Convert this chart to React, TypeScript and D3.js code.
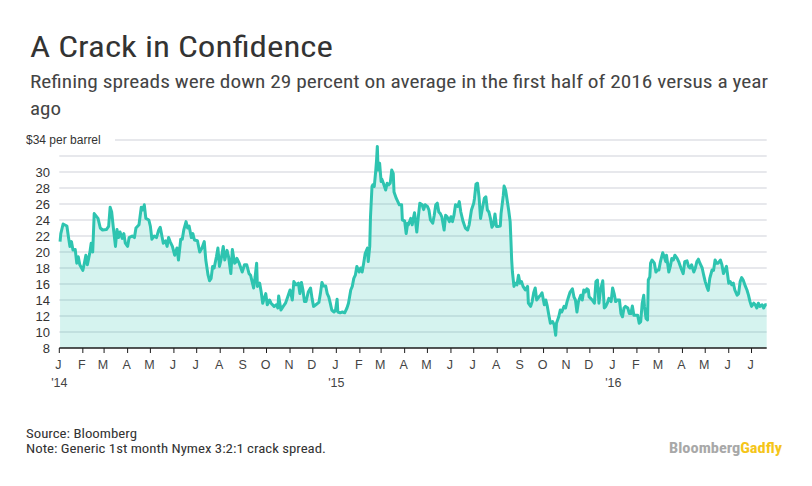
import React from "react";
import * as d3 from "d3";

const spread2014: [string, number][] = [
  ["2014-01-02", 21.3], ["2014-01-03", 22.3], ["2014-01-06", 23.5], ["2014-01-11", 23.25], ["2014-01-13", 21.9],
  ["2014-01-15", 20.7], ["2014-01-17", 21.3], ["2014-01-19", 20.25], ["2014-01-22", 20.3], ["2014-01-24", 18.6],
  ["2014-01-26", 19.4], ["2014-01-28", 18.4], ["2014-02-01", 17.7], ["2014-02-03", 18.6], ["2014-02-05", 19.6],
  ["2014-02-07", 18.4], ["2014-02-10", 19.8], ["2014-02-12", 21.1], ["2014-02-14", 20.0], ["2014-02-16", 24.8],
  ["2014-02-21", 24.2], ["2014-02-24", 23.0], ["2014-02-27", 22.75], ["2014-03-04", 22.8], ["2014-03-07", 23.2],
  ["2014-03-09", 25.6], ["2014-03-11", 25.0], ["2014-03-13", 23.2], ["2014-03-16", 20.7], ["2014-03-18", 22.8],
  ["2014-03-20", 21.8], ["2014-03-22", 22.5], ["2014-03-25", 21.7], ["2014-03-27", 22.3], ["2014-03-29", 21.1],
  ["2014-04-01", 20.7], ["2014-04-03", 21.8], ["2014-04-07", 22.0], ["2014-04-10", 21.8], ["2014-04-12", 23.0],
  ["2014-04-16", 23.4], ["2014-04-19", 25.6], ["2014-04-21", 25.25], ["2014-04-23", 25.9], ["2014-04-25", 24.2],
  ["2014-04-29", 24.0], ["2014-05-01", 23.2], ["2014-05-03", 21.6], ["2014-05-06", 22.0], ["2014-05-09", 21.8],
  ["2014-05-12", 22.75], ["2014-05-14", 23.1], ["2014-05-16", 22.1], ["2014-05-18", 21.1], ["2014-05-21", 21.4],
  ["2014-05-23", 20.7], ["2014-05-25", 21.8], ["2014-05-27", 21.3], ["2014-05-30", 20.7], ["2014-06-02", 19.6],
  ["2014-06-05", 20.5], ["2014-06-07", 19.0], ["2014-06-10", 21.6], ["2014-06-12", 21.6], ["2014-06-14", 22.75],
  ["2014-06-17", 23.8], ["2014-06-19", 23.0], ["2014-06-21", 23.25], ["2014-06-24", 21.8], ["2014-06-26", 22.3],
  ["2014-06-28", 21.5], ["2014-07-02", 21.4], ["2014-07-05", 20.0], ["2014-07-08", 20.5], ["2014-07-11", 21.3],
  ["2014-07-13", 19.0], ["2014-07-16", 17.1], ["2014-07-18", 16.4], ["2014-07-20", 16.7], ["2014-07-22", 18.2],
  ["2014-07-24", 18.0], ["2014-07-27", 19.4], ["2014-07-29", 20.5], ["2014-07-31", 18.2], ["2014-08-02", 19.0],
  ["2014-08-05", 20.7], ["2014-08-07", 19.0], ["2014-08-10", 20.2], ["2014-08-12", 19.4], ["2014-08-15", 17.3],
  ["2014-08-17", 20.3], ["2014-08-20", 18.6], ["2014-08-22", 18.8], ["2014-08-23", 19.2], ["2014-08-26", 18.6],
  ["2014-08-30", 17.5], ["2014-09-02", 18.4], ["2014-09-05", 18.4], ["2014-09-08", 17.3], ["2014-09-10", 17.1],
  ["2014-09-12", 16.3], ["2014-09-14", 15.5], ["2014-09-16", 16.9], ["2014-09-18", 18.6], ["2014-09-19", 15.7],
  ["2014-09-22", 16.1], ["2014-09-24", 15.0], ["2014-09-26", 13.6], ["2014-09-28", 14.2], ["2014-09-30", 14.8],
  ["2014-10-02", 13.4], ["2014-10-05", 14.0], ["2014-10-07", 13.6], ["2014-10-11", 13.2], ["2014-10-14", 13.4],
  ["2014-10-16", 13.0], ["2014-10-17", 14.5], ["2014-10-20", 12.75], ["2014-10-23", 13.2], ["2014-10-26", 13.6],
  ["2014-10-29", 14.4], ["2014-11-01", 15.25], ["2014-11-04", 14.0], ["2014-11-06", 16.3], ["2014-11-09", 15.9],
  ["2014-11-12", 16.1], ["2014-11-14", 14.8], ["2014-11-16", 16.2], ["2014-11-18", 15.25], ["2014-11-20", 13.8],
  ["2014-11-22", 13.8], ["2014-11-25", 15.0], ["2014-11-28", 15.5], ["2014-11-30", 14.2], ["2014-12-02", 13.2],
  ["2014-12-05", 13.4], ["2014-12-09", 13.7], ["2014-12-11", 14.8], ["2014-12-13", 16.2], ["2014-12-15", 15.75],
  ["2014-12-18", 15.75], ["2014-12-20", 14.8], ["2014-12-22", 14.4], ["2014-12-24", 13.6], ["2014-12-26", 12.75],
  ["2014-12-29", 12.5], ["2014-12-31", 12.75],
];

const spread2015: [string, number][] = [
  ["2015-01-02", 14.1], ["2015-01-03", 12.5], ["2015-01-06", 12.4], ["2015-01-09", 12.5], ["2015-01-12", 12.4],
  ["2015-01-15", 13.0], ["2015-01-17", 13.6], ["2015-01-20", 15.25], ["2015-01-22", 15.7], ["2015-01-24", 16.7],
  ["2015-01-26", 17.1], ["2015-01-28", 18.2], ["2015-01-31", 17.5], ["2015-02-02", 18.0], ["2015-02-04", 17.5],
  ["2015-02-06", 18.6], ["2015-02-08", 19.8], ["2015-02-11", 20.5], ["2015-02-12", 18.8], ["2015-02-14", 20.7],
  ["2015-02-15", 24.4], ["2015-02-17", 28.2], ["2015-02-18", 28.4], ["2015-02-20", 28.2], ["2015-02-22", 30.25],
  ["2015-02-23", 31.5], ["2015-02-24", 33.2], ["2015-02-25", 30.25], ["2015-02-27", 31.1], ["2015-03-01", 28.8],
  ["2015-03-02", 29.1], ["2015-03-04", 28.6], ["2015-03-07", 27.75], ["2015-03-09", 28.6], ["2015-03-11", 28.4],
  ["2015-03-13", 28.6], ["2015-03-15", 30.25], ["2015-03-17", 29.8], ["2015-03-18", 27.5], ["2015-03-21", 26.7],
  ["2015-03-23", 26.3], ["2015-03-25", 25.9], ["2015-03-28", 25.9], ["2015-03-29", 24.0], ["2015-04-01", 23.9],
  ["2015-04-03", 22.3], ["2015-04-05", 23.6], ["2015-04-06", 23.4], ["2015-04-09", 24.2], ["2015-04-11", 23.4],
  ["2015-04-12", 24.0], ["2015-04-14", 24.9], ["2015-04-17", 22.5], ["2015-04-19", 24.4], ["2015-04-21", 26.1],
  ["2015-04-24", 25.9], ["2015-04-26", 25.3], ["2015-04-28", 25.9], ["2015-05-01", 25.7], ["2015-05-03", 25.25],
  ["2015-05-05", 24.0], ["2015-05-08", 23.6], ["2015-05-10", 24.6], ["2015-05-12", 25.9], ["2015-05-14", 26.1],
  ["2015-05-16", 25.0], ["2015-05-18", 24.8], ["2015-05-20", 24.4], ["2015-05-23", 22.75], ["2015-05-25", 24.6],
  ["2015-05-27", 24.4], ["2015-05-30", 23.8], ["2015-06-01", 24.4], ["2015-06-03", 23.8], ["2015-06-05", 24.6],
  ["2015-06-07", 25.9], ["2015-06-10", 25.7], ["2015-06-12", 26.3], ["2015-06-14", 25.0], ["2015-06-17", 23.8],
  ["2015-06-20", 23.0], ["2015-06-23", 22.75], ["2015-06-25", 23.4], ["2015-06-28", 25.25], ["2015-07-01", 26.1],
  ["2015-07-02", 26.7], ["2015-07-04", 28.5], ["2015-07-06", 28.6], ["2015-07-08", 26.9], ["2015-07-10", 24.2],
  ["2015-07-12", 25.25], ["2015-07-15", 26.7], ["2015-07-17", 26.9], ["2015-07-19", 25.25], ["2015-07-21", 25.0],
  ["2015-07-23", 24.2], ["2015-07-25", 23.1], ["2015-07-27", 23.4], ["2015-07-29", 24.75], ["2015-07-31", 23.2],
  ["2015-08-02", 23.2], ["2015-08-05", 23.25], ["2015-08-06", 24.8], ["2015-08-09", 27.1], ["2015-08-10", 28.25],
  ["2015-08-12", 27.75], ["2015-08-14", 26.5], ["2015-08-16", 25.25], ["2015-08-18", 23.8], ["2015-08-19", 21.5],
  ["2015-08-20", 19.0], ["2015-08-21", 17.5], ["2015-08-23", 15.7], ["2015-08-25", 16.1], ["2015-08-27", 15.9],
  ["2015-08-29", 17.1], ["2015-08-31", 16.1], ["2015-09-02", 16.3], ["2015-09-04", 15.7], ["2015-09-07", 15.25],
  ["2015-09-10", 15.7], ["2015-09-11", 13.6], ["2015-09-14", 13.2], ["2015-09-16", 13.8], ["2015-09-18", 14.9],
  ["2015-09-20", 15.5], ["2015-09-22", 14.0], ["2015-09-25", 14.4], ["2015-09-27", 14.6], ["2015-09-29", 14.9],
  ["2015-10-02", 13.4], ["2015-10-04", 14.0], ["2015-10-06", 13.2], ["2015-10-08", 12.1], ["2015-10-10", 11.1],
  ["2015-10-13", 11.3], ["2015-10-15", 10.9], ["2015-10-17", 9.6], ["2015-10-18", 11.1], ["2015-10-21", 11.9],
  ["2015-10-23", 12.75], ["2015-10-25", 12.5], ["2015-10-28", 13.2], ["2015-10-30", 13.0], ["2015-11-01", 13.8],
  ["2015-11-03", 14.4], ["2015-11-05", 15.0], ["2015-11-08", 15.4], ["2015-11-10", 14.4], ["2015-11-12", 14.0],
  ["2015-11-14", 12.5], ["2015-11-16", 13.8], ["2015-11-19", 14.6], ["2015-11-21", 14.0], ["2015-11-23", 15.25],
  ["2015-11-25", 15.0], ["2015-11-27", 15.4], ["2015-11-29", 15.25], ["2015-11-30", 14.4], ["2015-12-02", 14.2],
  ["2015-12-04", 14.0], ["2015-12-07", 13.6], ["2015-12-09", 16.3], ["2015-12-11", 16.5], ["2015-12-13", 13.6],
  ["2015-12-15", 15.25], ["2015-12-18", 16.4], ["2015-12-20", 13.0], ["2015-12-22", 13.2], ["2015-12-24", 13.6],
  ["2015-12-26", 14.2], ["2015-12-29", 13.8], ["2015-12-31", 15.5],
];

const spread2016: [string, number][] = [
  ["2016-01-02", 14.8], ["2016-01-04", 13.8], ["2016-01-06", 14.0], ["2016-01-09", 14.0], ["2016-01-11", 12.3],
  ["2016-01-13", 11.9], ["2016-01-15", 13.0], ["2016-01-17", 13.2], ["2016-01-20", 13.0], ["2016-01-22", 12.3],
  ["2016-01-24", 12.3], ["2016-01-26", 13.25], ["2016-01-28", 12.1], ["2016-01-31", 12.1], ["2016-02-02", 12.1],
  ["2016-02-04", 11.1], ["2016-02-06", 11.3], ["2016-02-08", 13.6], ["2016-02-10", 14.6], ["2016-02-11", 13.2],
  ["2016-02-13", 11.7], ["2016-02-15", 11.5], ["2016-02-16", 16.5], ["2016-02-18", 16.9], ["2016-02-19", 18.6],
  ["2016-02-21", 19.0], ["2016-02-24", 18.6], ["2016-02-26", 17.5], ["2016-02-28", 17.75], ["2016-03-01", 17.75],
  ["2016-03-03", 18.8], ["2016-03-06", 19.9], ["2016-03-08", 19.4], ["2016-03-10", 18.8], ["2016-03-11", 19.6],
  ["2016-03-14", 17.5], ["2016-03-16", 18.2], ["2016-03-18", 19.2], ["2016-03-20", 19.0], ["2016-03-22", 19.6],
  ["2016-03-25", 19.2], ["2016-03-27", 18.8], ["2016-03-30", 18.0], ["2016-04-02", 17.3], ["2016-04-04", 18.8],
  ["2016-04-07", 18.9], ["2016-04-09", 18.2], ["2016-04-11", 18.0], ["2016-04-13", 18.4], ["2016-04-16", 17.5],
  ["2016-04-18", 18.0], ["2016-04-20", 18.8], ["2016-04-22", 19.1], ["2016-04-24", 18.6], ["2016-04-27", 18.0],
  ["2016-04-29", 17.1], ["2016-05-01", 16.3], ["2016-05-03", 15.7], ["2016-05-05", 15.2], ["2016-05-07", 16.7],
  ["2016-05-10", 17.75], ["2016-05-12", 17.7], ["2016-05-14", 19.0], ["2016-05-16", 18.6], ["2016-05-18", 18.6],
  ["2016-05-21", 19.0], ["2016-05-23", 18.4], ["2016-05-25", 17.3], ["2016-05-27", 17.75], ["2016-05-29", 18.2],
  ["2016-06-01", 16.1], ["2016-06-03", 16.3], ["2016-06-05", 15.9], ["2016-06-07", 16.1], ["2016-06-09", 15.25],
  ["2016-06-12", 14.6], ["2016-06-14", 14.8], ["2016-06-16", 16.3], ["2016-06-18", 16.8], ["2016-06-20", 16.5],
  ["2016-06-23", 15.7], ["2016-06-25", 15.25], ["2016-06-27", 14.6], ["2016-06-29", 13.8], ["2016-07-01", 13.2],
  ["2016-07-04", 13.6], ["2016-07-06", 13.4], ["2016-07-08", 13.0], ["2016-07-10", 13.6], ["2016-07-12", 13.2],
  ["2016-07-15", 13.4], ["2016-07-17", 13.0], ["2016-07-19", 13.4], ["2016-07-21", 13.4],
];

const gridValues = [10, 12, 14, 16, 18, 20, 22, 24, 26, 28, 30, 32, 34];
const yTickLabels = [8, 10, 12, 14, 16, 18, 20, 22, 24, 26, 28, 30];
const yDomain: [number, number] = [8, 34];
const xDomain: [string, string] = ["2014-01-01", "2016-07-21"];

const title = "A Crack in Confidence";
const subtitleLines = [
  "Refining spreads were down 29 percent on average in the first half of 2016 versus a year",
  "ago",
];
const unitLabel = "$34 per barrel";
const sourceText = "Source: Bloomberg";
const noteText = "Note: Generic 1st month Nymex 3:2:1 crack spread.";

const parse = d3.utcParse("%Y-%m-%d");

export default function App() {
  const W = 812;
  const H = 486;
  const left = 59.3;
  const right = 766.7;
  const bottom = 348;
  const top = 140;

  const data = [...spread2014, ...spread2015, ...spread2016].map(([d, v]) => ({
    date: parse(d) as Date,
    value: v,
  }));

  const x = d3
    .scaleUtc()
    .domain([parse(xDomain[0]) as Date, parse(xDomain[1]) as Date])
    .range([left, right]);
  const y = d3.scaleLinear().domain(yDomain).range([bottom, top]);

  const area = d3
    .area<{ date: Date; value: number }>()
    .x((d) => x(d.date))
    .y0(y(yDomain[0]))
    .y1((d) => y(d.value));
  const line = d3
    .line<{ date: Date; value: number }>()
    .x((d) => x(d.date))
    .y((d) => y(d.value));

  const months = d3.utcMonth.range(
    parse(xDomain[0]) as Date,
    d3.utcDay.offset(parse(xDomain[1]) as Date, 1)
  );
  const monthFmt = d3.utcFormat("%b");
  const yearFmt = d3.utcFormat("%y");

  const condensed = "'Liberation Sans Narrow', 'Roboto Condensed', Roboto, 'Liberation Sans', sans-serif";
  const axisFont = "'Liberation Sans', Arial, sans-serif";

  return (
    <svg width={W} height={H} style={{ display: "block", position: "absolute", left: 0, top: 0 }}>
      <rect width={W} height={H} fill="#ffffff" />
      <text x={30} y={57} fontFamily={condensed} fontSize={30} fill="#333333" textLength={303} lengthAdjust="spacingAndGlyphs">
        {title}
      </text>
      <text x={30} y={88} fontFamily={condensed} fontSize={18} fill="#444444" textLength={738} lengthAdjust="spacingAndGlyphs">
        {subtitleLines[0]}
      </text>
      <text x={30} y={115} fontFamily={condensed} fontSize={18} fill="#444444" textLength={31} lengthAdjust="spacingAndGlyphs">
        {subtitleLines[1]}
      </text>

      {gridValues.map((t) => (
        <line
          key={t}
          x1={t === 34 ? 115 : left}
          x2={right}
          y1={y(t)}
          y2={y(t)}
          stroke="#dfe1e6"
          strokeWidth={1.5}
        />
      ))}

      <path d={area(data) || ""} fill="#2ec4b0" fillOpacity={0.2} />
      <path d={line(data) || ""} fill="none" stroke="#2ec4b0" strokeWidth={3} strokeLinejoin="round" />

      <text x={26} y={y(34) + 4} fontFamily={axisFont} fontSize={12} fill="#333">
        {unitLabel}
      </text>
      {yTickLabels.map((t) => (
        <text key={t} x={50} y={y(t) + 4.5} fontFamily={axisFont} fontSize={13} fill="#333" textAnchor="end">
          {t}
        </text>
      ))}

      <line x1={left} x2={right} y1={bottom} y2={bottom} stroke="#1c1c1c" strokeWidth={1.5} />
      {months.map((m) => {
        const mx = x(m);
        return (
          <g key={m.toISOString()}>
            <line x1={mx} x2={mx} y1={bottom} y2={bottom + 5} stroke="#1c1c1c" strokeWidth={1} />
            <text x={mx - 1} y={369} fontFamily={axisFont} fontSize={12.5} fill="#444" textAnchor="middle">
              {monthFmt(m)[0]}
            </text>
            {m.getUTCMonth() === 0 && (
              <text x={mx} y={387} fontFamily={axisFont} fontSize={12.5} fill="#444" textAnchor="middle">
                {"'" + yearFmt(m)}
              </text>
            )}
          </g>
        );
      })}

      <text x={26} y={438} fontFamily={condensed} fontSize={12.5} fill="#333" textLength={111} lengthAdjust="spacingAndGlyphs">
        {sourceText}
      </text>
      <text x={26} y={453} fontFamily={condensed} fontSize={12.5} fill="#333" textLength={300} lengthAdjust="spacingAndGlyphs">
        {noteText}
      </text>
      <text x={669} y={453} fontFamily={condensed} fontSize={14} fontWeight="bold" textLength={113} lengthAdjust="spacingAndGlyphs">
        <tspan fill="#a8a8a8">Bloomberg</tspan>
        <tspan fill="#f5c518">Gadfly</tspan>
      </text>
    </svg>
  );
}
